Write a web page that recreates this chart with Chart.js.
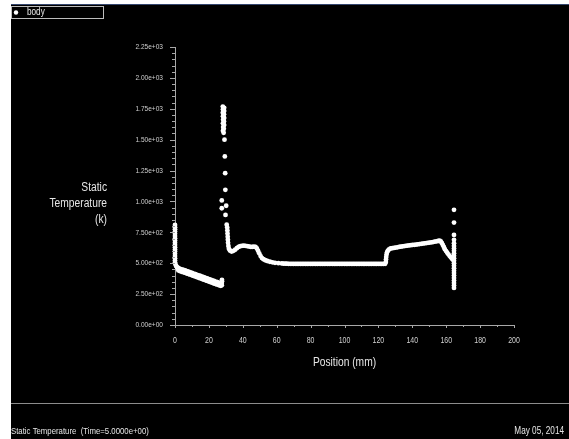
<!DOCTYPE html>
<html>
<head>
<meta charset="utf-8">
<script src="https://cdn.jsdelivr.net/npm/chart.js@4/dist/chart.umd.min.js"></script>
<style>
  html, body { margin: 0; padding: 0; background: #ffffff; }
  #plot { display: block; }
</style>
</head>
<body>
<canvas id="plot" width="569" height="439"></canvas>
<script>
// Static temperature along the body, position in mm, temperature in K.
const seriesName = 'body';

// Inlet wall and cooling section
const inletPos = [
  0, 0, 0, 0, 0, 0, 0, 0, 0, 0, 0, 0, 0, 0, 0, 0, 0, 0,
  0.3, 0.7, 1.2, 1.6,
  2, 3, 4, 5, 6, 7, 8, 9, 10, 11, 12, 13, 14, 15, 16, 17, 18, 19, 20, 21, 22, 23, 24, 25, 26, 27,
  2, 3, 4, 5, 6, 7, 8, 9, 10, 11, 12, 13, 14, 15, 16, 17, 18, 19, 20, 21, 22, 23, 24, 25, 26, 27,
  27.6, 27.6, 27.7, 27.7
];
const inletTemp = [
  810, 792, 774, 756, 738, 720, 702, 684, 666, 648, 630, 612, 594, 576, 558, 540, 522, 505,
  490, 478, 468, 460,
  462, 455, 450, 446, 441, 436, 431, 426, 421, 416, 411, 406, 401, 397, 392, 387, 382, 377, 372, 367, 361, 356, 351, 346, 341, 337,
  442, 436, 431, 427, 422, 417, 412, 407, 402, 397, 392, 387, 382, 377, 372, 367, 362, 357, 352, 347, 341, 336, 331, 326, 321, 317,
  322, 340, 355, 366
];

// Combustion peak and recovery
const peakPos = [
  28.2, 29.0, 28.3, 29.0, 28.2, 28.9, 28.3, 29.0, 28.4, 28.9, 28.3, 29.0, 28.4, 28.8, 28.3, 28.7,
  29.2, 29.4, 29.6, 29.7, 27.6, 27.6, 30.2, 29.8, 30.5,
  30.8, 30.9, 31.0, 31.1, 31.2, 31.3, 31.5, 31.8, 32.4, 33.4, 34.5, 35.5, 36.5, 37.5, 38.5, 39.5,
  40.5, 41.5, 42.5, 43.5, 44.5, 45.5, 46.5, 47.5, 48.3, 49, 49.7, 50.5, 51.3, 52.2, 53.3, 54.5,
  56, 57.5, 59, 61, 63
];
const peakTemp = [
  1768, 1758, 1745, 1732, 1718, 1705, 1690, 1676, 1662, 1648, 1632, 1618, 1602, 1588, 1572, 1556,
  1500, 1364, 1229, 1094, 1008, 945, 965, 891, 812,
  790, 765, 740, 715, 690, 665, 640, 618, 603, 595, 600, 610, 622, 632, 638, 641,
  642, 641, 639, 636, 633, 632, 634, 632, 620, 600, 580, 558, 542, 532, 524, 518,
  512, 507, 503, 500, 498
];

// Plateau
const plateauPos = [
  64, 65, 66, 67, 68, 69, 70, 71, 72, 73, 74, 75, 76, 77, 78, 79, 80, 81, 82, 83,
  84, 85, 86, 87, 88, 89, 90, 91, 92, 93, 94, 95, 96, 97, 98, 99, 100, 101, 102, 103,
  104, 105, 106, 107, 108, 109, 110, 111, 112, 113, 114, 115, 116, 117, 118, 119, 120, 121, 122, 123, 124
];
const plateauTemp = [
  497, 496, 496, 495, 495, 495, 494, 495, 494, 495, 494, 494, 495, 494, 494, 495, 494, 494, 495, 494,
  494, 495, 494, 494, 494, 495, 494, 494, 495, 494, 494, 494, 495, 494, 494, 495, 494, 494, 494, 495,
  494, 494, 495, 494, 494, 494, 495, 494, 494, 495, 494, 494, 494, 495, 494, 494, 495, 494, 494, 494, 495
];

// Second rise and outlet
const outletPos = [
  124.4, 124.5, 124.6, 124.8, 125.1, 125.6, 126.3, 127.2, 128.2, 129.2, 130.2, 131.2, 132.2, 133.2,
  134.2, 135.2, 136.2, 137.2, 138.2, 139.2, 140.2, 141.2, 142.2, 143.2, 144.2, 145.2, 146.2, 147.2,
  148.2, 149.2, 150.2, 151.2, 152.2, 153.2, 154.2, 155.2, 156.1, 156.8, 157.4, 158, 158.6, 159.2,
  159.9, 160.6, 161.3, 162, 162.7, 163.4, 164,
  164.6, 164.6, 164.6, 164.6, 164.6, 164.6, 164.6, 164.6, 164.6, 164.6, 164.6, 164.6, 164.6, 164.6,
  164.6, 164.6, 164.6, 164.6,
  164.6, 164.6, 164.6, 164.6, 164.6
];
const outletTemp = [
  510, 530, 550, 570, 588, 602, 612, 619, 622, 624, 627, 629, 632, 634,
  637, 639, 641, 643, 645, 646, 648, 649, 651, 653, 655, 657, 659, 661,
  663, 665, 667, 669, 671, 674, 677, 680, 683, 676, 664, 648, 632, 614,
  598, 585, 572, 560, 548, 537, 528,
  640, 620, 600, 580, 560, 540, 520, 500, 480, 460, 440, 420, 400, 380,
  360, 340, 320, 300,
  932, 829, 729, 689, 662
];

const xTicks = { min: 0, max: 200, step: 20, minor: 10 };
const yTicks = { min: 0, max: 2250, step: 250, minor: 50 };

const axisTitleX = 'Position (mm)';
const axisTitleY = ['Static', 'Temperature', '(k)'];
const footerLeft = 'Static Temperature  (Time=5.0000e+00)';
const footerRight = 'May 05, 2014';

function toPoints(pos, temp) {
  return pos.map((p, i) => ({ x: p, y: temp[i] }));
}
const points = [].concat(
  toPoints(inletPos, inletTemp),
  toPoints(peakPos, peakTemp),
  toPoints(plateauPos, plateauTemp),
  toPoints(outletPos, outletTemp)
);

const FONT = '"Liberation Sans", Arial, sans-serif';
const NARROW = 0.82;            // horizontal squeeze for the condensed lettering
const LABEL_COLOR = '#cfcfcf';
const AXIS_COLOR = '#a8a8a8';

function sciLabel(v) {
  return Number(v).toExponential(2).replace(/e([+-])(\d)$/, 'e$10$2');
}

// Draws condensed text; align is 'left' | 'center' | 'right', y is the middle of the line
function narrowText(ctx, text, x, y, size, align, color) {
  ctx.save();
  ctx.font = size + 'px ' + FONT;
  ctx.fillStyle = color;
  ctx.textAlign = align;
  ctx.textBaseline = 'middle';
  ctx.translate(x, y);
  ctx.scale(NARROW, 1);
  ctx.fillText(text, 0, 0);
  ctx.restore();
}

// Background, legend box, tick marks, tick labels, titles and footer
const framePlugin = {
  id: 'frame',
  beforeDraw(chart) {
    const ctx = chart.ctx;
    const W = chart.width, H = chart.height;
    ctx.save();
    ctx.fillStyle = '#ffffff';
    ctx.fillRect(0, 0, W, H);
    ctx.fillStyle = '#000000';
    ctx.fillRect(11, 4, W - 11, H - 4);
    ctx.strokeStyle = '#34466e';
    ctx.lineWidth = 1;
    ctx.beginPath();
    ctx.moveTo(11, 4.5);
    ctx.lineTo(W, 4.5);
    ctx.stroke();

    // legend entry
    ctx.strokeStyle = '#bdbdbd';
    ctx.strokeRect(11.5, 6.5, 92, 12);
    ctx.fillStyle = '#ffffff';
    ctx.beginPath();
    ctx.arc(16, 12.5, 2.2, 0, Math.PI * 2);
    ctx.fill();
    ctx.restore();
    narrowText(ctx, chart.data.datasets[0].label, 27, 12.5, 10, 'left', '#e8e8e8');
  },
  afterDraw(chart) {
    const ctx = chart.ctx;
    const xs = chart.scales.x, ys = chart.scales.y;
    const area = chart.chartArea;
    ctx.save();
    ctx.strokeStyle = AXIS_COLOR;
    ctx.lineWidth = 1;
    ctx.beginPath();
    for (let v = yTicks.min; v <= yTicks.max; v += yTicks.minor) {
      const py = Math.round(ys.getPixelForValue(v)) + 0.5;
      const len = (v % yTicks.step === 0) ? 5 : 3;
      ctx.moveTo(area.left - len, py);
      ctx.lineTo(area.left, py);
    }
    for (let v = xTicks.min; v <= xTicks.max; v += xTicks.minor) {
      const px = Math.round(xs.getPixelForValue(v)) + 0.5;
      const len = (v % xTicks.step === 0) ? 3 : 2;
      ctx.moveTo(px, area.bottom);
      ctx.lineTo(px, area.bottom + len);
    }
    ctx.stroke();
    ctx.restore();

    // tick labels from the scales' own ticks
    ys.ticks.forEach((t, i) => {
      narrowText(ctx, t.label, area.left - 12, ys.getPixelForTick(i), 8, 'right', LABEL_COLOR);
    });
    xs.ticks.forEach((t, i) => {
      narrowText(ctx, t.label, xs.getPixelForTick(i), area.bottom + 16, 8.5, 'center', LABEL_COLOR);
    });

    // axis titles
    axisTitleY.forEach((line, i) => narrowText(ctx, line, 107, 188 + i * 15.6, 12.5, 'right', '#e6e6e6'));
    narrowText(ctx, axisTitleX, (area.left + area.right) / 2, 363, 12.5, 'center', '#e6e6e6');

    // footer
    ctx.save();
    ctx.strokeStyle = '#8c8c8c';
    ctx.lineWidth = 1;
    ctx.beginPath();
    ctx.moveTo(11, 403.5);
    ctx.lineTo(chart.width, 403.5);
    ctx.stroke();
    ctx.restore();
    narrowText(ctx, footerLeft, 11, 431, 9.5, 'left', '#e6e6e6');
    narrowText(ctx, footerRight, 564, 431, 10, 'right', '#e6e6e6');
  }
};

new Chart(document.getElementById('plot'), {
  type: 'scatter',
  data: {
    datasets: [{
      label: seriesName,
      data: points,
      showLine: false,
      pointRadius: 2.4,
      pointHoverRadius: 2.4,
      pointBackgroundColor: '#ffffff',
      pointBorderWidth: 0,
      clip: false
    }]
  },
  options: {
    responsive: false,
    animation: false,
    devicePixelRatio: 1,
    events: [],
    layout: { padding: { left: 0, top: 47, right: 55, bottom: 0 } },
    plugins: { legend: { display: false }, tooltip: { enabled: false } },
    scales: {
      x: {
        type: 'linear',
        min: xTicks.min,
        max: xTicks.max,
        afterFit(scale) { scale.height = 114; },
        grid: { display: false, drawTicks: false },
        border: { display: true, color: AXIS_COLOR, width: 1 },
        ticks: { stepSize: xTicks.step, autoSkip: false, maxRotation: 0, display: false }
      },
      y: {
        type: 'linear',
        min: yTicks.min,
        max: yTicks.max,
        afterFit(scale) { scale.width = 175; },
        grid: { display: false, drawTicks: false },
        border: { display: true, color: AXIS_COLOR, width: 1 },
        ticks: { stepSize: yTicks.step, autoSkip: false, display: false, callback: (v) => sciLabel(v) }
      }
    }
  },
  plugins: [framePlugin]
});
</script>
</body>
</html>
